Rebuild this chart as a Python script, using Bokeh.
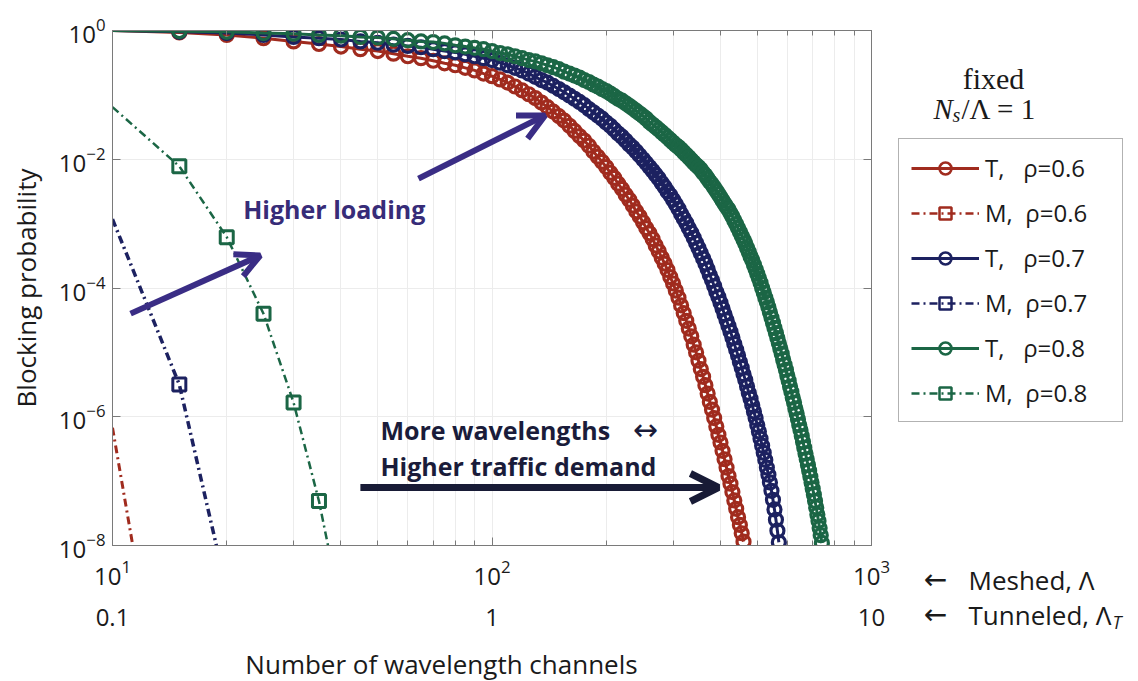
import math
from bokeh.plotting import figure
from bokeh.layouts import row, column
from bokeh.models import (Range1d, FixedTicker, LogAxis, Legend, LegendItem,
                          Label, Arrow, OpenHead)
from bokeh.embed import file_html
from bokeh.resources import INLINE

# ---------------- data ----------------
# Tunneled curves: log10(blocking probability) at N = 10, 15, 20, ... (step 5)
T_START = 10
T_STEP = 5
T06_LOG10 = [
    0.00, -0.03, -0.07, -0.12, -0.17, -0.21, -0.25, -0.29, -0.32, -0.36,
    -0.40, -0.43, -0.47, -0.51, -0.54, -0.58, -0.62, -0.67, -0.71, -0.76,
    -0.81, -0.87, -0.93, -0.99, -1.05, -1.12, -1.19, -1.26, -1.33, -1.40,
    -1.48, -1.56, -1.64, -1.71, -1.79, -1.88, -1.96, -2.04, -2.12, -2.21,
    -2.29, -2.38, -2.46, -2.55, -2.63, -2.72, -2.81, -2.89, -2.98, -3.07,
    -3.15, -3.24, -3.34, -3.43, -3.53, -3.62, -3.72, -3.83, -3.93, -4.04,
    -4.15, -4.27, -4.39, -4.51, -4.63, -4.75, -4.88, -5.00, -5.13, -5.26,
    -5.38, -5.51, -5.64, -5.77, -5.89, -6.02, -6.15, -6.28, -6.40, -6.53,
    -6.66, -6.79, -6.92, -7.04, -7.17, -7.30, -7.43, -7.56, -7.68, -7.81,
    -7.94]
T07_LOG10 = [
    0.00, -0.02, -0.04, -0.07, -0.10, -0.12, -0.14, -0.17, -0.19, -0.22,
    -0.24, -0.26, -0.29, -0.32, -0.34, -0.37, -0.40, -0.43, -0.46, -0.50,
    -0.54, -0.58, -0.62, -0.67, -0.72, -0.77, -0.81, -0.86, -0.91, -0.96,
    -1.01, -1.06, -1.11, -1.16, -1.22, -1.27, -1.32, -1.37, -1.43, -1.48,
    -1.54, -1.60, -1.65, -1.71, -1.77, -1.82, -1.88, -1.94, -2.00, -2.06,
    -2.12, -2.18, -2.24, -2.30, -2.37, -2.43, -2.50, -2.56, -2.63, -2.70,
    -2.77, -2.85, -2.92, -2.99, -3.07, -3.14, -3.22, -3.30, -3.38, -3.46,
    -3.54, -3.62, -3.71, -3.80, -3.88, -3.97, -4.06, -4.14, -4.23, -4.32,
    -4.41, -4.50, -4.59, -4.68, -4.77, -4.87, -4.96, -5.05, -5.15, -5.24,
    -5.34, -5.43, -5.53, -5.63, -5.72, -5.82, -5.92, -6.02, -6.13, -6.23,
    -6.34, -6.45, -6.56, -6.67, -6.79, -6.90, -7.02, -7.15, -7.29, -7.44,
    -7.60, -7.77, -7.95]
T08_LOG10 = [
    0.00, -0.01, -0.02, -0.04, -0.05, -0.07, -0.08, -0.10, -0.11, -0.13,
    -0.15, -0.17, -0.18, -0.20, -0.23, -0.25, -0.27, -0.29, -0.32, -0.35,
    -0.37, -0.40, -0.43, -0.46, -0.48, -0.51, -0.54, -0.57, -0.60, -0.64,
    -0.67, -0.70, -0.73, -0.77, -0.80, -0.84, -0.87, -0.91, -0.94, -0.98,
    -1.02, -1.06, -1.09, -1.13, -1.17, -1.21, -1.25, -1.29, -1.33, -1.37,
    -1.42, -1.46, -1.50, -1.54, -1.58, -1.62, -1.66, -1.70, -1.74, -1.78,
    -1.81, -1.85, -1.89, -1.93, -1.97, -2.01, -2.05, -2.09, -2.12, -2.16,
    -2.21, -2.25, -2.30, -2.35, -2.39, -2.44, -2.49, -2.54, -2.59, -2.64,
    -2.69, -2.74, -2.78, -2.84, -2.89, -2.95, -3.01, -3.07, -3.13, -3.19,
    -3.25, -3.31, -3.38, -3.44, -3.51, -3.57, -3.64, -3.71, -3.78, -3.85,
    -3.92, -4.00, -4.07, -4.15, -4.22, -4.30, -4.38, -4.46, -4.54, -4.62,
    -4.70, -4.78, -4.86, -4.94, -5.02, -5.11, -5.19, -5.27, -5.36, -5.44,
    -5.53, -5.61, -5.70, -5.78, -5.87, -5.95, -6.04, -6.13, -6.21, -6.30,
    -6.39, -6.48, -6.57, -6.66, -6.75, -6.84, -6.93, -7.02, -7.12, -7.21,
    -7.31, -7.41, -7.52, -7.62, -7.73, -7.84, -7.96]

# Meshed curves: x and log10(blocking probability)
M06_X = [10, 15]
M06_LOG10 = [-6.17, -12.2]
M07_X = [10, 15, 20]
M07_LOG10 = [-2.93, -5.50, -8.70]
M08_X = [10, 15, 20, 25, 30, 35, 40]
M08_LOG10 = [-1.19, -2.11, -3.21, -4.40, -5.78, -7.31, -8.99]

X_MAJOR = [10, 100, 1000]
X_MINOR = [20, 30, 40, 50, 60, 70, 80, 90, 200, 300, 400, 500, 600, 700, 800, 900]
Y_MAJOR = [1e-8, 1e-6, 1e-4, 1e-2, 1]
Y_GRID = [1e-6, 1e-4, 1e-2]
TUNNELED_TICK_LABELS = {10: "0.1", 100: "1", 1000: "10"}

LEGEND_LABELS = ["T,   \u03c1=0.6", "M,  \u03c1=0.6",
                 "T,   \u03c1=0.7", "M,  \u03c1=0.7",
                 "T,   \u03c1=0.8", "M,  \u03c1=0.8"]
COLORS = ["#a02b1e", "#1c2160", "#1b6645"]

# annotation anchor points (data coordinates)
ARROW_LOADING_1 = (11.16, 4.0e-5, 24.5, 3.2e-4)
ARROW_LOADING_2 = (64.0, 5.0e-3, 138.0, 0.048)
ARROW_DEMAND = (45.0, 7.96e-8, 395.0, 7.96e-8)

# ---------------- layout ----------------
FONT = "Open Sans"
SERIF = "Liberation Serif"
W, H = 1138, 681
MAIN_W, TOP_H = 896, 640          # main plot canvas; bottom strip holds x title
ML, MR, MT, MB = 112, 25, 30, 95  # frame: x 112..871, y 30..545


def no_frame_align(fig):
    try:
        fig.frame_align = False
    except Exception:
        pass


p = figure(width=MAIN_W, height=TOP_H, x_axis_type="log", y_axis_type="log",
           x_range=Range1d(10, 1000), y_range=Range1d(1e-8, 1),
           output_backend="svg", toolbar_location=None,
           min_border_left=ML, min_border_right=MR,
           min_border_top=MT, min_border_bottom=MB)
no_frame_align(p)
p.outline_line_color = "#7a7a7a"
p.background_fill_color = "white"
p.border_fill_color = "white"

AX_COL = "#7a7a7a"
xt = FixedTicker(ticks=X_MAJOR, minor_ticks=X_MINOR)
yt = FixedTicker(ticks=Y_MAJOR, minor_ticks=[])


def style_axis(ax):
    ax.axis_line_color = AX_COL
    ax.major_tick_line_color = AX_COL
    ax.minor_tick_line_color = AX_COL
    ax.major_tick_in = 8
    ax.major_tick_out = 0
    ax.minor_tick_in = 5
    ax.minor_tick_out = 0


xa = p.xaxis[0]
ya = p.yaxis[0]
xa.ticker = xt
ya.ticker = yt
for ax in (xa, ya):
    style_axis(ax)
    ax.major_label_text_font = FONT
    ax.major_label_text_font_size = "24px"
    ax.major_label_text_color = "#1a1a1a"
xa.major_label_standoff = 14
ya.major_label_standoff = 7
ya.axis_label = "Blocking probability"
ya.axis_label_text_font = FONT
ya.axis_label_text_font_size = "26px"
ya.axis_label_text_font_style = "normal"
ya.axis_label_text_color = "#1a1a1a"
ya.axis_label_standoff = 12

top_ax = LogAxis(ticker=xt, major_label_text_font_size="0px",
                 major_label_text_color=None, major_label_standoff=0)
right_ax = LogAxis(ticker=yt, major_label_text_font_size="0px",
                   major_label_text_color=None, major_label_standoff=0)
style_axis(top_ax)
style_axis(right_ax)
p.add_layout(top_ax, "above")
p.add_layout(right_ax, "right")

tun_ax = LogAxis(ticker=FixedTicker(ticks=X_MAJOR, minor_ticks=[]),
                 major_label_overrides=TUNNELED_TICK_LABELS,
                 axis_line_color=None, major_tick_line_color=None,
                 minor_tick_line_color=None, major_label_standoff=15,
                 major_label_text_font=FONT, major_label_text_font_size="24px",
                 major_label_text_color="#1a1a1a")
p.add_layout(tun_ax, "below")

p.xgrid.ticker = FixedTicker(ticks=sorted(X_MINOR + [100]))
p.ygrid.ticker = FixedTicker(ticks=Y_GRID)
p.xgrid.grid_line_color = "#ececec"
p.ygrid.grid_line_color = "#ececec"

# ---------------- series ----------------
MARKER_SIZE = 13
MARKER_LW = 3.2
series = [
    (T06_LOG10, M06_X, M06_LOG10, COLORS[0], 3.0),
    (T07_LOG10, M07_X, M07_LOG10, COLORS[1], 3.5),
    (T08_LOG10, M08_X, M08_LOG10, COLORS[2], 2.5),
]
for t_log, m_x, m_log, col, m_lw in series:
    tx = [T_START + T_STEP * i for i in range(len(t_log))]
    ty = [10 ** v for v in t_log]
    p.line(tx, ty, line_color=col, line_width=3)
    p.scatter(tx[1:], ty[1:], marker="circle", size=MARKER_SIZE, fill_color=None,
              line_color=col, line_width=MARKER_LW)
    my = [10 ** v for v in m_log]
    p.line(m_x, my, line_color=col, line_width=m_lw, line_dash="8 4 2 4")
    p.scatter(m_x[1:], my[1:], marker="square", size=MARKER_SIZE, fill_color=None,
              line_color=col, line_width=3.0)

# ---------------- arrows ----------------
for (x0, y0, x1, y1), col, lw, hs in [
        (ARROW_LOADING_1, "#3a2d85", 6, 24),
        (ARROW_LOADING_2, "#3a2d85", 6, 26),
        (ARROW_DEMAND, "#181b36", 7, 28)]:
    p.add_layout(Arrow(x_start=x0, y_start=y0, x_end=x1, y_end=y1,
                       line_color=col, line_width=lw,
                       end=OpenHead(size=hs, line_color=col, line_width=lw)))

# ---------------- texts inside plot ----------------
p.add_layout(Label(x=22.1, y=1.66e-3, text="Higher loading", text_font=FONT,
                   text_font_style="bold", text_font_size="25px",
                   text_color="#372c78", text_align="left", text_baseline="middle"))
p.add_layout(Label(x=50.8, y=6.3e-7, text="More wavelengths", text_font=FONT,
                   text_font_style="bold", text_font_size="25px",
                   text_color="#1a1c3a", text_align="left", text_baseline="middle"))
p.add_layout(Label(x=235, y=6.3e-7, text="\u2194", text_font="DejaVu Sans",
                   text_font_size="30px", text_color="#1a1c3a",
                   text_align="left", text_baseline="middle"))
p.add_layout(Label(x=50.8, y=1.69e-7, text="Higher traffic demand", text_font=FONT,
                   text_font_style="bold", text_font_size="25px",
                   text_color="#1a1c3a", text_align="left", text_baseline="middle"))

# ---------------- right-hand panel: legend and side notes ----------------
SIDE_W = W - MAIN_W
side = figure(width=SIDE_W, height=TOP_H, x_range=Range1d(0, SIDE_W),
              y_range=Range1d(0, TOP_H), output_backend="svg",
              toolbar_location=None, min_border=0,
              x_axis_location=None, y_axis_location=None)
no_frame_align(side)
side.outline_line_color = None
side.xgrid.visible = False
side.ygrid.visible = False
side.background_fill_color = "white"
side.border_fill_color = "white"

items = []
for k, (t_log, m_x, m_log, col, m_lw) in enumerate(series):
    # legend swatches (placed outside the visible range)
    lt = side.line([-50, -40], [-50, -50], line_color=col, line_width=3)
    st = side.scatter([-45], [-50], marker="circle", size=MARKER_SIZE,
                      fill_color=None, line_color=col, line_width=2.5)
    lm = side.line([-50, -40], [-50, -50], line_color=col, line_width=2.5,
                   line_dash="8 4 2 4")
    sm = side.scatter([-45], [-50], marker="square", size=MARKER_SIZE,
                      fill_color=None, line_color=col, line_width=2.5)
    items.append(LegendItem(label=LEGEND_LABELS[2 * k], renderers=[lt, st]))
    items.append(LegendItem(label=LEGEND_LABELS[2 * k + 1], renderers=[lm, sm]))

legend = Legend(items=items, location=(2, TOP_H - 422), orientation="vertical",
                border_line_color="#666666", border_line_width=1,
                background_fill_color="white", background_fill_alpha=1.0,
                label_text_font=FONT, label_text_font_size="24px",
                label_text_color="#1a1a1a",
                glyph_width=68, glyph_height=30, label_height=30,
                label_width=125, spacing=12, padding=12, margin=0,
                label_standoff=6)
side.add_layout(legend)


def side_label(px, py, text, font=FONT, size="26px", style="normal",
               align="left", baseline="middle"):
    side.add_layout(Label(x=px - MAIN_W, y=TOP_H - py, text=text,
                          text_font=font, text_font_size=size,
                          text_font_style=style, text_align=align,
                          text_baseline=baseline, text_color="#1a1a1a"))


side_label(993, 78, "fixed", font=SERIF, size="30px", align="center", baseline="alphabetic")
side_label(933, 108, "N", font=SERIF, size="29px", style="italic", baseline="alphabetic")
side_label(952, 114, "s", font=SERIF, size="20px", style="italic", baseline="alphabetic")
side_label(961, 108, "/\u039b = 1", font=SERIF, size="29px", baseline="alphabetic")

side_label(935, 579, "\u2190", font="DejaVu Sans", size="28px", align="center")
side_label(968, 579, "Meshed, \u039b", size="26px")
side_label(935, 614, "\u2190", font="DejaVu Sans", size="28px", align="center")
side_label(968, 614, "Tunneled, \u039b", size="26px")
side_label(1112, 621, "T", size="18px", style="italic")

# ---------------- bottom strip: x title ----------------
BOT_H = H - TOP_H
bottom = figure(width=W, height=BOT_H, x_range=Range1d(0, W),
                y_range=Range1d(0, BOT_H), output_backend="svg",
                toolbar_location=None, min_border=0,
                x_axis_location=None, y_axis_location=None)
no_frame_align(bottom)
bottom.outline_line_color = None
bottom.xgrid.visible = False
bottom.ygrid.visible = False
bottom.add_layout(Label(x=441, y=H - 663, text="Number of wavelength channels",
                        text_font=FONT, text_font_size="26px",
                        text_align="center", text_baseline="middle",
                        text_color="#1a1a1a"))

layout = column(row(p, side, spacing=0), bottom, spacing=0)

html = file_html(layout, INLINE, title="Blocking probability")
with open("out.html", "w", encoding="utf-8") as f:
    f.write(html)
